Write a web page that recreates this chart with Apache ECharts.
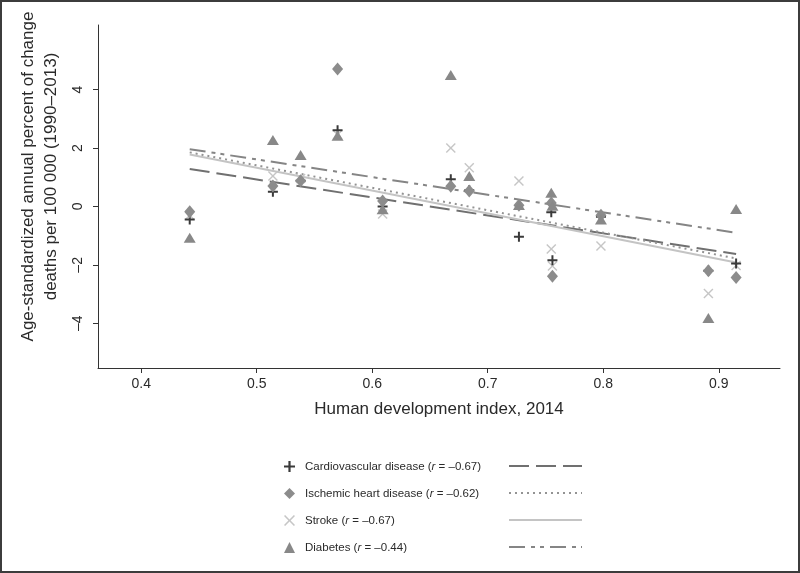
<!DOCTYPE html>
<html>
<head>
<meta charset="utf-8">
<script src="https://cdn.jsdelivr.net/npm/echarts@6/dist/echarts.min.js"></script>
<style>
html,body{margin:0;padding:0;background:#fff;}
#wrap{position:relative;width:800px;height:573px;}
#chart{width:800px;height:573px;}
#frame{position:absolute;left:0;top:0;width:800px;height:573px;box-sizing:border-box;border:2px solid #3c3c3c;pointer-events:none;}
</style>
</head>
<body>
<div id="wrap"><div id="chart"></div><div id="frame"></div></div>
<script>
// ---- data ----
const hdi = [0.442, 0.514, 0.538, 0.570, 0.609, 0.668, 0.684, 0.727, 0.755, 0.756, 0.798, 0.891, 0.915];
const cvd      = [-0.45, 0.50, 0.88, 2.61, 0.00, 0.93, 0.55, -1.04, -0.20, -1.84, -0.35, -2.20, -1.95];
const ihd      = [-0.18, 0.70, 0.88, 4.70, 0.19, 0.69, 0.53, 0.04, 0.12, -2.39, -0.30, -2.20, -2.43];
const stroke   = [-0.30, 1.04, 0.96, 2.45, -0.26, 2.00, 1.32, 0.87, -1.46, -2.04, -1.35, -2.98, -2.02];
const diabetes = [-1.07, 2.27, 1.76, 2.42, -0.10, 4.50, 1.04, 0.05, 0.47, 0.02, -0.45, -3.82, -0.09];

// fitted-line end points: [x, y]
const cvdFit      = [[0.442, 1.28], [0.915, -1.63]];
const ihdFit      = [[0.442, 1.85], [0.915, -1.78]];
const strokeFit   = [[0.442, 1.78], [0.915, -1.92]];
const diabetesFit = [[0.442, 1.96], [0.915, -0.90]];

const seriesNames = ['Cardiovascular disease', 'Ischemic heart disease', 'Stroke', 'Diabetes'];
const rValues = ['–0.67', '–0.62', '–0.67', '–0.44'];

const xTicks = [0.4, 0.5, 0.6, 0.7, 0.8, 0.9];
const yTicks = [-4, -2, 0, 2, 4];

// ---- chart ----
const pair = (ys) => hdi.map((x, i) => [x, ys[i]]);
const PLUS = 'path://M4,0H6V4H10V6H6V10H4V6H0V4H4Z';
const CROSS = 'path://M1,0L5,4L9,0L10,1L6,5L10,9L9,10L5,6L1,10L0,9L4,5L0,1Z';

const colors = {cvd:'#3a3a3a', ihd:'#8c8c8c', stroke:'#c6c6c6', diab:'#888888'};
const lineCol = {cvd:'#707070', ihd:'#939393', stroke:'#c4c4c4', diab:'#858585'};
const dash = {cvd:[20,7], ihd:[2,4], stroke:'solid', diab:[16,6,4,5,4,6]};

const chart = echarts.init(document.getElementById('chart'), null, {renderer:'canvas'});
const fitSeries = (name, data, col, type, w) => ({
  name: name, type: 'line', data: data, symbol: 'none', silent: true,
  lineStyle: {color: col, width: w, type: type}, z: 1, animation: false
});

const legendRows = [466, 493, 520, 547];
const legendLines = [
  {col: lineCol.cvd, dash: dash.cvd, w: 2},
  {col: lineCol.ihd, dash: dash.ihd, w: 2},
  {col: lineCol.stroke, dash: null, w: 2},
  {col: lineCol.diab, dash: dash.diab, w: 2}
];

const option = {
  animation: false,
  backgroundColor: '#fff',
  textStyle: {fontFamily: 'Liberation Sans, Arial, sans-serif'},
  grid: {left: 98, right: 20, top: 25, bottom: 205, containLabel: false},
  xAxis: {
    type: 'value', min: 0.3626, max: 0.953,
    name: 'Human development index, 2014', nameLocation: 'middle', nameGap: 33,
    nameTextStyle: {fontSize: 17, color: '#2a2a2a', fontFamily: 'Liberation Sans, Arial, sans-serif'},
    axisLine: {show: true, onZero: false, lineStyle: {color: '#333', width: 1}},
    axisTick: {show: true, length: 5, customValues: xTicks, lineStyle: {color: '#333'}},
    axisLabel: {customValues: xTicks, margin: 9, fontSize: 14, color: '#2a2a2a',
      formatter: (v) => v.toFixed(1)},
    splitLine: {show: false}
  },
  yAxis: {
    type: 'value', min: -5.53, max: 6.21,
    name: 'Age-standardized annual percent of change\ndeaths per 100 000 (1990–2013)',
    nameLocation: 'middle', nameGap: 33, nameRotate: 90,
    nameTextStyle: {fontSize: 17, color: '#2a2a2a', lineHeight: 23, padding: [0, 0, 0, 40],
      fontFamily: 'Liberation Sans, Arial, sans-serif'},
    axisLine: {show: true, onZero: false, lineStyle: {color: '#333', width: 1}},
    axisTick: {show: true, length: 5, customValues: yTicks, lineStyle: {color: '#333'}},
    axisLabel: {customValues: yTicks, rotate: 90, margin: 13, fontSize: 14, color: '#2a2a2a',
      formatter: (v) => (v < 0 ? '–' + Math.abs(v) : String(v))},
    splitLine: {show: false}
  },
  legend: {
    orient: 'vertical', left: 279, top: 455.5, itemWidth: 11, itemHeight: 11, itemGap: 15,
    data: seriesNames,
    textStyle: {fontSize: 11.5, color: '#2a2a2a', padding: [0, 0, 0, 5],
      rich: {n: {fontSize: 11.5, color: '#2a2a2a'}, i: {fontSize: 11.5, color: '#2a2a2a', fontStyle: 'italic'}}},
    formatter: (name) => {
      const k = seriesNames.indexOf(name);
      return '{n|' + name + ' (}{i|r}{n| = ' + rValues[k] + ')}';
    },
    selectedMode: false
  },
  graphic: legendLines.map((l, i) => ({
    type: 'line', silent: true,
    shape: {x1: 509, y1: legendRows[i], x2: 582, y2: legendRows[i]},
    style: {stroke: l.col, lineWidth: l.w, lineDash: l.dash}
  })),
  series: [
    fitSeries('cvdFit', cvdFit, lineCol.cvd, dash.cvd, 2),
    fitSeries('ihdFit', ihdFit, lineCol.ihd, dash.ihd, 2),
    fitSeries('strokeFit', strokeFit, lineCol.stroke, 'solid', 2),
    fitSeries('diabFit', diabetesFit, lineCol.diab, dash.diab, 2),
    {name: seriesNames[2], type: 'scatter', data: pair(stroke), symbol: CROSS, symbolSize: 10,
      itemStyle: {color: colors.stroke, opacity: 1}, z: 3},
    {name: seriesNames[0], type: 'scatter', data: pair(cvd), symbol: PLUS, symbolSize: 10,
      itemStyle: {color: colors.cvd, opacity: 1}, z: 4},
    {name: seriesNames[1], type: 'scatter', data: pair(ihd), symbol: 'diamond', symbolSize: [11, 13],
      itemStyle: {color: colors.ihd, opacity: 1}, z: 5},
    {name: seriesNames[3], type: 'scatter', data: pair(diabetes), symbol: 'triangle', symbolSize: [12, 10],
      itemStyle: {color: colors.diab, opacity: 1}, z: 6}
  ]
};
chart.setOption(option);
</script>
</body>
</html>
